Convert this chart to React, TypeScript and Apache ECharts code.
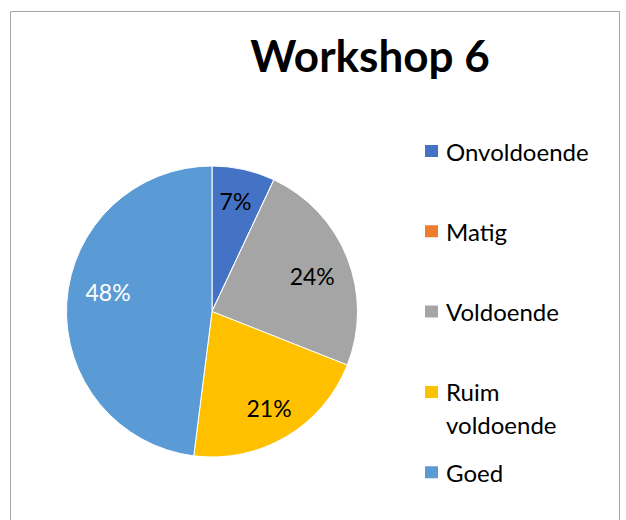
import React, { useEffect, useRef } from "react";
import * as echarts from "echarts";

const titleText = "Workshop 6";
const categories = ["Onvoldoende", "Matig", "Voldoende", "Ruim voldoende", "Goed"];
const values = [7, 0, 24, 21, 48];
const colors = ["#4472C4", "#ED7D31", "#A5A5A5", "#FFC000", "#5B9BD5"];
const labelColors = ["#000000", "#000000", "#000000", "#000000", "#FFFFFF"];
const labelOffsets = [[-1, -1], [0, 0], [-4, 6], [0, 0], [8, -12]];

const FONT = "Lato";

export default function App() {
  const ref = useRef<HTMLDivElement>(null);
  useEffect(() => {
    if (!ref.current) return;
    const chart = echarts.init(ref.current, null, { renderer: "svg" });
    const total = values.reduce((a, b) => a + b, 0);
    const center = [212, 311.5];
    const R = 145.5;
    chart.setOption({
      animation: false,
      backgroundColor: "#ffffff",
      title: {
        text: titleText,
        left: 365,
        top: 28,
        textAlign: "center",
        textStyle: { fontFamily: FONT, fontWeight: "bold", fontSize: 44, color: "#000" },
      },
      legend: {
        orient: "vertical",
        left: 418,
        top: 131,
        itemWidth: 15,
        itemHeight: 14,
        itemGap: 50.3,
        icon: "rect",
        data: categories,
        formatter: (n: string) => (n === "Ruim voldoende" ? "Ruim" : n),
        textStyle: { fontFamily: FONT, fontSize: 24, color: "#000", lineHeight: 30, padding: [0, 0, 0, 2] },
        selectedMode: false,
      },
      graphic: [
        {
          type: "rect",
          shape: { x: 10.5, y: 11.5, width: 609, height: 530 },
          style: { fill: "none", stroke: "#a6a6a6", lineWidth: 1 },
          silent: true,
        },
        {
          type: "text",
          left: 446,
          top: 412,
          style: { text: "voldoende", fontFamily: FONT, fontSize: 24, fill: "#000" },
          silent: true,
        },
      ],
      series: [
        {
          type: "pie",
          center,
          radius: [0, R],
          startAngle: 90,
          clockwise: true,
          silent: true,
          label: { show: false },
          labelLine: { show: false },
          itemStyle: { borderColor: "#ffffff", borderWidth: 1 },
          data: categories.map((c, i) => ({ name: c, value: values[i], itemStyle: { color: colors[i] } })),
        },
        {
          type: "pie",
          center,
          radius: [R * 0.5, R],
          startAngle: 90,
          clockwise: true,
          silent: true,
          legendHoverLink: false,
          itemStyle: { color: "rgba(0,0,0,0)" },
          labelLine: { show: false },
          data: categories.map((c, i) => ({
            name: c,
            value: values[i],
            label: {
              show: values[i] > 0,
              position: "inside",
              offset: labelOffsets[i],
              formatter: () => Math.round((values[i] / total) * 100) + "%",
              fontFamily: FONT,
              fontSize: 23,
              color: labelColors[i],
            },
          })),
        },
      ],
    });
    return () => chart.dispose();
  }, []);
  return <div ref={ref} style={{ position: "fixed", left: 0, top: 0, width: 626, height: 520 }} />;
}
